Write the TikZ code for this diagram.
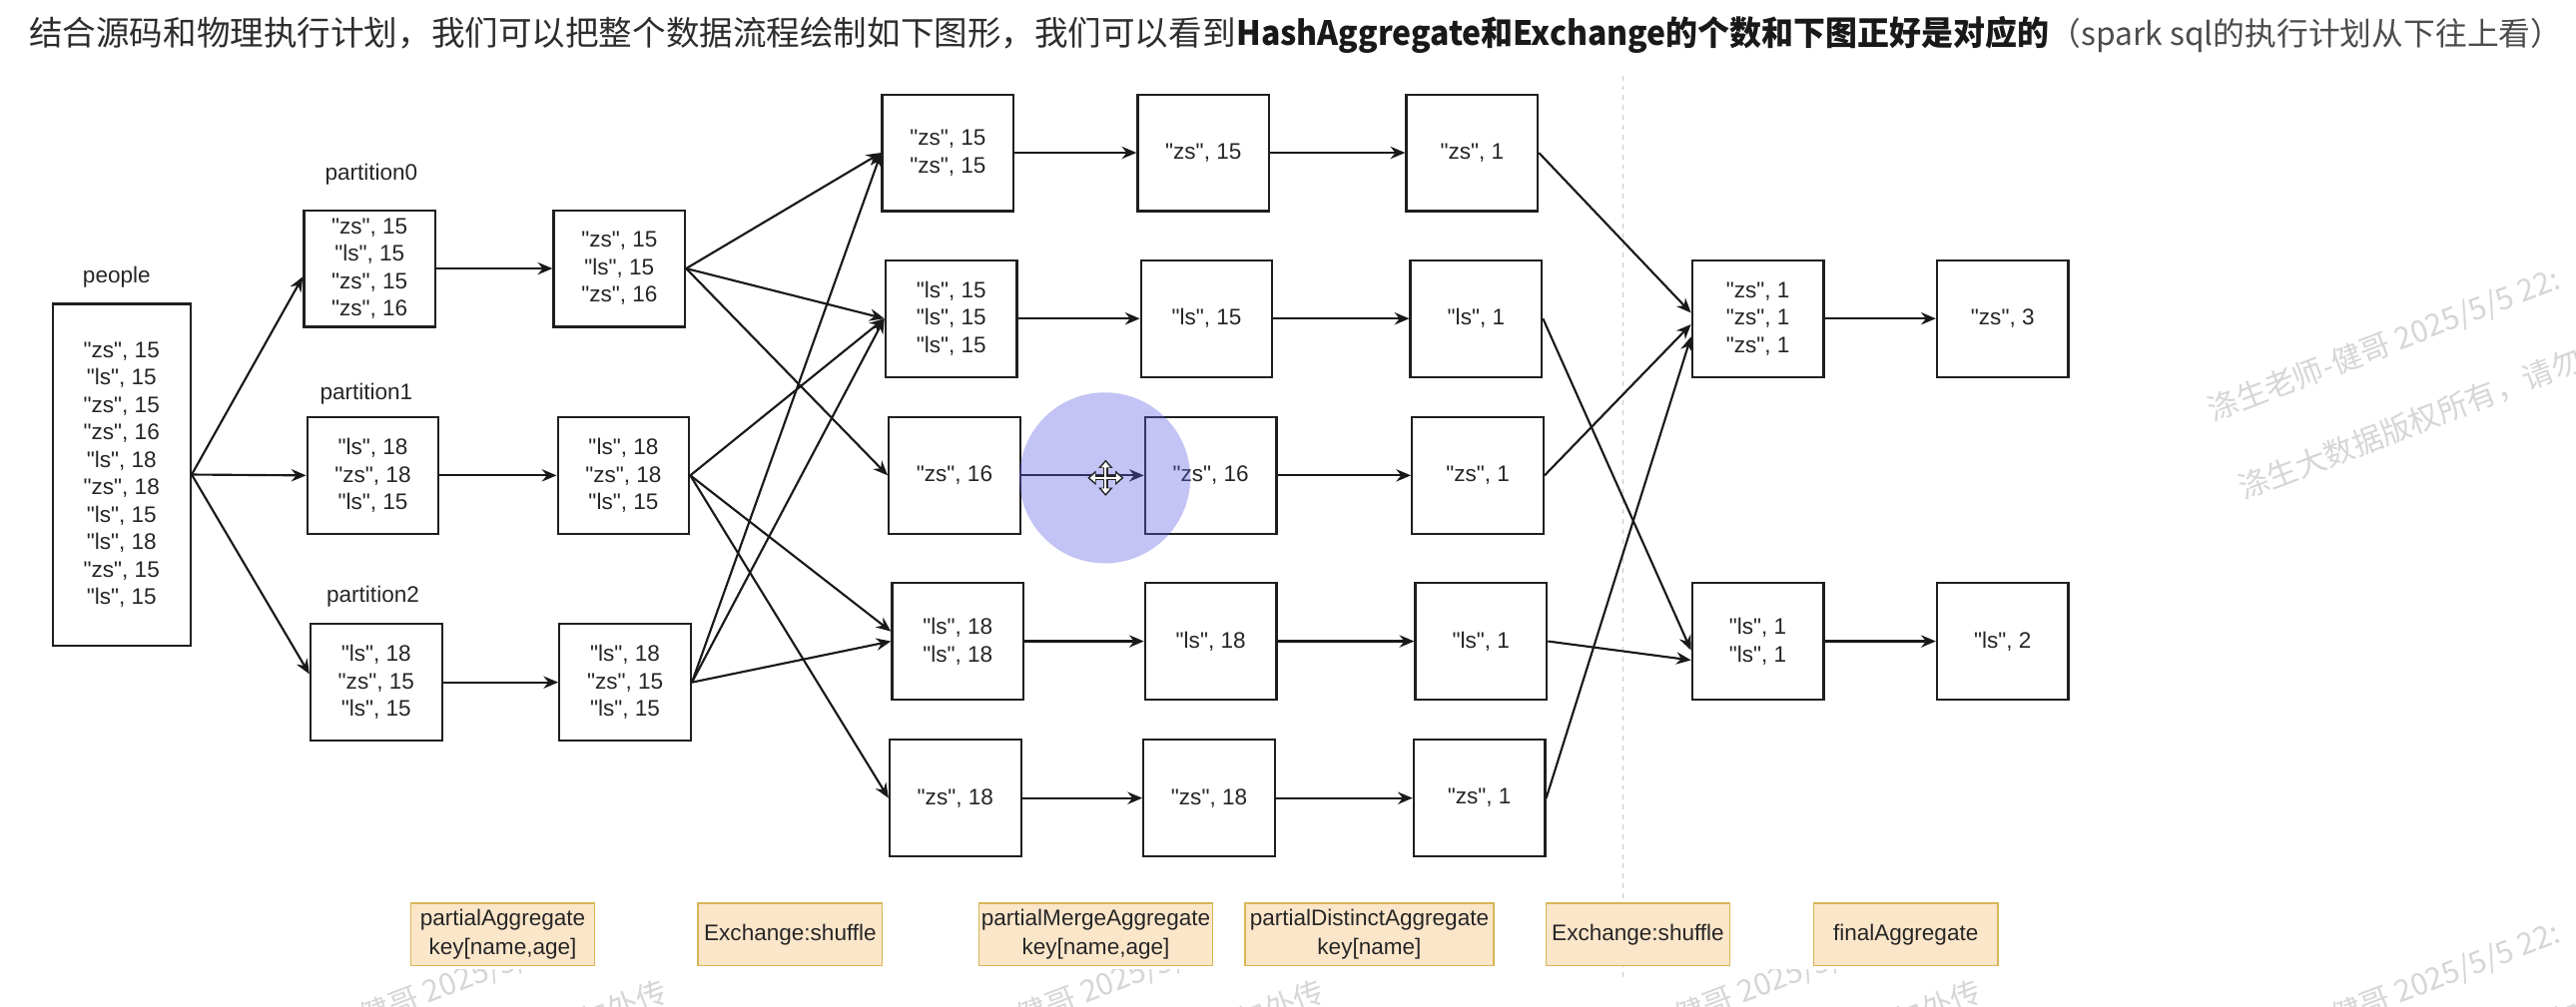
\documentclass[tikz,border=0pt]{standalone}
\usepackage{fontspec}
\usetikzlibrary{arrows.meta}
\newfontfamily\boxf{Liberation Sans}
\newfontfamily\cjk{Noto Sans CJK SC}
\definecolor{lblfill}{RGB}{252,230,202}
\definecolor{lbldraw}{RGB}{214,182,86}
\definecolor{titlec}{RGB}{45,45,45}
\definecolor{wmark}{RGB}{214,214,214}
\definecolor{spot}{RGB}{90,90,230}
\begin{document}
\begin{tikzpicture}[x=1pt,y=-1pt,
  box/.style={draw=black!88, line width=1.35pt, minimum width=80pt, minimum height=71pt, inner sep=0pt, align=center, text=black!85, font=\boxf\fontsize{13.7}{16.7}\selectfont},
  captxt/.style={inner sep=0pt, text=black!85, font=\boxf\fontsize{13.7}{16.7}\selectfont},
  lbl/.style={draw=lbldraw, fill=lblfill, line width=1pt, minimum height=38pt, inner sep=0pt, align=center, text=black!85, font=\boxf\fontsize{13.7}{18}\selectfont},
  arr/.style={draw=black!90, line width=1.3pt, -{Stealth[length=9pt,width=7.5pt,inset=3pt]}},
  wm/.style={anchor=base west, inner sep=0pt, rotate=21, text=wmark, font=\cjk\fontsize{18.5}{20}\selectfont},
  ttl/.style={anchor=base west, inner sep=0pt},
]
\useasboundingbox[fill=white] (0,0) rectangle (1568,613);

% ---------- watermark (visible only outside the drawing canvas)
\begin{scope}
\clip (1335,0) rectangle (1568,613) (0,590) rectangle (1568,613);
\foreach \px/\py [count=\i] in {147/655, 547/655, 947/655, 1347/655, 1347/257} {
  \node[wm] (wmA\i) at (\px,\py) {涤生老师-健哥 2025/5/5 22:};
  \node[wm] (wmB\i) at (\px+18.7,\py+47.5) {涤生大数据版权所有，请勿外传};
}
\end{scope}

% ---------- title
\node[ttl, text=titlec, font=\cjk\fontsize{20.4}{24}\selectfont] (t1) at (17.6,27.5) {结合源码和物理执行计划，我们可以把整个数据流程绘制如下图形，我们可以看到};
\node[ttl, text=black!90, font=\cjk\bfseries\fontsize{20.4}{24}\selectfont] (t2) at (t1.base east) {\scalebox{0.952}[1]{HashAggregate和Exchange的个数和下图正好是对应的}};
\node[ttl, text=black!70, font=\cjk\fontsize{19.3}{24}\selectfont] (t3) at (t2.base east) {（spark sql的执行计划从下往上看）};

% ---------- page break line
\draw[black!22, line width=0.8pt, dash pattern=on 3pt off 3pt] (988,46) -- (988,597);

% ---------- source
\node[captxt] (lpeople) at (71,169) {people};
\node[box, minimum width=84pt, minimum height=208pt] (people) at (74,289) {"zs", 15\\"ls", 15\\"zs", 15\\"zs", 16\\"ls", 18\\"zs", 18\\"ls", 15\\"ls", 18\\"zs", 15\\"ls", 15};

% ---------- partitions
\node[captxt] (lp0) at (226,106) {partition0};
\node[captxt] (lp1) at (223,240) {partition1};
\node[captxt] (lp2) at (227,363) {partition2};
\node[box] (P0) at (225,163.5) {"zs", 15\\"ls", 15\\"zs", 15\\"zs", 16};
\node[box] (P1) at (227,289.5) {"ls", 18\\"zs", 18\\"ls", 15};
\node[box] (P2) at (229,415.5) {"ls", 18\\"zs", 15\\"ls", 15};

\node[box] (Q0) at (377,163.5) {"zs", 15\\"ls", 15\\"zs", 16};
\node[box] (Q1) at (379.5,289.5) {"ls", 18\\"zs", 18\\"ls", 15};
\node[box] (Q2) at (380.5,415.5) {"ls", 18\\"zs", 15\\"ls", 15};

% ---------- after shuffle
\node[box] (A3) at (577,93) {"zs", 15\\"zs", 15};
\node[box] (B3) at (579,194) {"ls", 15\\"ls", 15\\"ls", 15};
\node[box] (C3) at (581,289.5) {"zs", 16};
\node[box] (D3) at (583,390.5) {"ls", 18\\"ls", 18};
\node[box] (E3) at (581.5,486) {"zs", 18};

\node[box] (A4) at (732.5,93) {"zs", 15};
\node[box] (B4) at (734.5,194) {"ls", 15};
\node[box] (C4) at (737,289.5) {"zs", 16};
\node[box] (D4) at (737,390.5) {"ls", 18};
\node[box] (E4) at (736,486) {"zs", 18};

\node[box] (A5) at (896,93) {"zs", 1};
\node[box] (B5) at (898.5,194) {"ls", 1};
\node[box] (C5) at (899.5,289.5) {"zs", 1};
\node[box] (D5) at (901.5,390.5) {"ls", 1};
\node[box] (E5) at (900.5,486) {"zs", 1};

\node[box] (F) at (1070,194) {"zs", 1\\"zs", 1\\"zs", 1};
\node[box] (G) at (1070,390.5) {"ls", 1\\"ls", 1};
\node[box] (H) at (1219,194) {"zs", 3};
\node[box] (I) at (1219,390.5) {"ls", 2};

% ---------- connectors
\draw[arr] (people.east) -- ([yshift=-5pt]P0.west);
\draw[arr] (people.east) -- (P1.west);
\draw[arr] (people.east) -- ([yshift=5pt]P2.west);
\draw[arr] (P0) -- (Q0);
\draw[arr] (P1) -- (Q1);
\draw[arr] (P2) -- (Q2);

\draw[arr] (Q0.east) -- (A3.west);
\draw[arr] (Q0.east) -- (B3.west);
\draw[arr] (Q0.east) -- (C3.west);
\draw[arr] (Q1.east) -- (B3.west);
\draw[arr] (Q1.east) -- ([yshift=6pt]D3.west);
\draw[arr] (Q1.east) -- (E3.west);
\draw[arr] (Q2.east) -- (A3.west);
\draw[arr] (Q2.east) -- (B3.west);
\draw[arr] (Q2.east) -- (D3.west);

\foreach \r in {A,B,C,D,E} {
  \draw[arr] (\r3.east) -- (\r4.west);
  \draw[arr] (\r4.east) -- (\r5.west);
}

\draw[arr] (A5.east) -- ([yshift=3.5pt]F.west);
\draw[arr] (C5.east) -- ([yshift=-3.5pt]F.west);
\draw[arr] (E5.east) -- ([yshift=-11pt]F.west);
\draw[arr] (B5.east) -- ([yshift=-5.5pt]G.west);
\draw[arr] (D5.east) -- ([yshift=-11.5pt]G.west);
\draw[arr] (F) -- (H);
\draw[arr] (G) -- (I);

% ---------- stage labels
\node[lbl, minimum width=112pt] (s1) at (306,569) {partialAggregate\\key[name,age]};
\node[lbl, minimum width=112pt] (s2) at (481,569) {Exchange:shuffle};
\node[lbl, minimum width=142pt] (s3) at (667,569) {partialMergeAggregate\\key[name,age]};
\node[lbl, minimum width=151pt] (s4) at (833.5,569) {partialDistinctAggregate\\key[name]};
\node[lbl, minimum width=112pt] (s5) at (997,569) {Exchange:shuffle};
\node[lbl, minimum width=112pt] (s6) at (1160,569) {finalAggregate};

% ---------- pointer highlight
\fill[spot, opacity=0.36] (672.5,291) circle[radius=52pt];
\begin{scope}[shift={(673,291)}]
  \draw[black!85, line width=3pt, {Triangle[length=5pt,width=8.5pt]}-{Triangle[length=5pt,width=8.5pt]}] (-11,0) -- (11,0);
  \draw[black!85, line width=3pt, {Triangle[length=5pt,width=8.5pt]}-{Triangle[length=5pt,width=8.5pt]}] (0,-11) -- (0,11);
  \draw[white, line width=1.2pt, {Triangle[length=3.2pt,width=5.2pt]}-{Triangle[length=3.2pt,width=5.2pt]}] (-9.6,0) -- (9.6,0);
  \draw[white, line width=1.2pt, {Triangle[length=3.2pt,width=5.2pt]}-{Triangle[length=3.2pt,width=5.2pt]}] (0,-9.6) -- (0,9.6);
\end{scope}
\end{tikzpicture}
\end{document}
